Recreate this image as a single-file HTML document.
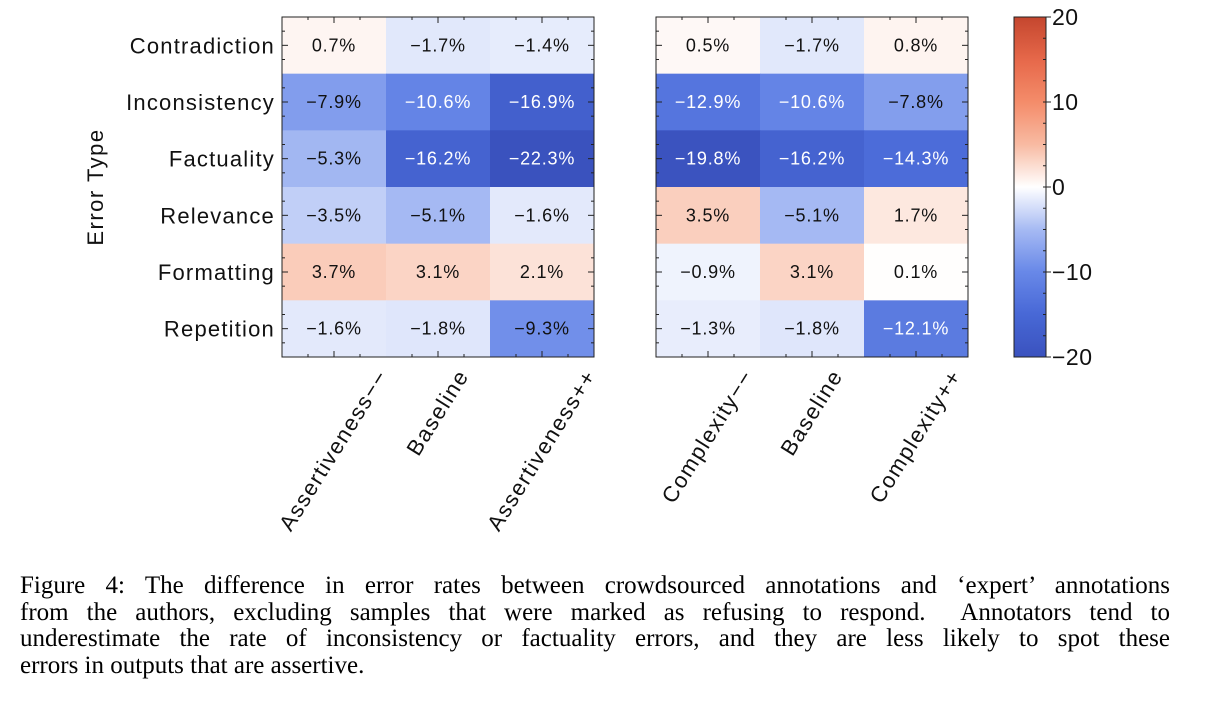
<!DOCTYPE html>
<html><head><meta charset="utf-8"><style>
body{margin:0;background:#fff;width:1226px;height:724px;overflow:hidden}
.cap{position:absolute;left:20px;top:573px;width:1150px;font-family:"Liberation Serif",serif;font-size:25px;line-height:26.7px;color:#000}
.cap div{text-align:justify;text-align-last:justify;white-space:nowrap}
.cap div.last{text-align-last:left}
</style></head><body>
<svg id="chart" width="1226" height="560" style="position:absolute;left:0;top:0" font-family="Liberation Sans, sans-serif"></svg>
<div class="cap">
<div>Figure 4: The difference in error rates between crowdsourced annotations and ‘expert’ annotations</div>
<div>from the authors, excluding samples that were marked as refusing to respond.&nbsp; Annotators tend to</div>
<div>underestimate the rate of inconsistency or factuality errors, and they are less likely to spot these</div>
<div class="last">errors in outputs that are assertive.</div>
</div>
<script>
const rows=["Contradiction","Inconsistency","Factuality","Relevance","Formatting","Repetition"];
const leftCols=["Assertiveness−−","Baseline","Assertiveness++"];
const rightCols=["Complexity−−","Baseline","Complexity++"];
const leftVals=[[0.7,-1.7,-1.4],[-7.9,-10.6,-16.9],[-5.3,-16.2,-22.3],[-3.5,-5.1,-1.6],[3.7,3.1,2.1],[-1.6,-1.8,-9.3]];
const rightVals=[[0.5,-1.7,0.8],[-12.9,-10.6,-7.8],[-19.8,-16.2,-14.3],[3.5,-5.1,1.7],[-0.9,3.1,0.1],[-1.3,-1.8,-12.1]];
const cbTicks=[20,10,0,-10,-20];
const vmin=-20,vmax=20;
const stops=[[-20,[58,82,190]],[-15,[72,104,214]],[-10,[104,136,232]],[-5,[166,186,243]],[0,[255,255,255]],[5,[248,186,162]],[10,[244,140,106]],[15,[230,104,74]],[20,[196,70,46]]];
function color(v){v=Math.max(vmin,Math.min(vmax,v));for(let i=0;i<stops.length-1;i++){const a=stops[i],b=stops[i+1];if(v<=b[0]){const t=(v-a[0])/(b[0]-a[0]);const c=a[1].map((x,k)=>Math.round(x+(b[1][k]-x)*t));return 'rgb('+c.join(',')+')';}}return 'rgb(196,70,46)';}
const svg=document.getElementById('chart');const NS='http://www.w3.org/2000/svg';
function el(t,a,txt){const e=document.createElementNS(NS,t);for(const k in a)e.setAttribute(k,a[k]);if(txt!==undefined)e.textContent=txt;svg.appendChild(e);return e;}
const yTop=17,yBot=357,H=yBot-yTop;
const ang=58*Math.PI/180;
function heat(x0,x1,cols,vals,name,showRows){
 const cw=(x1-x0)/cols.length,rh=H/rows.length;
 const xs=i=>x0+i*cw, ys=j=>yTop+j*rh;
 vals.forEach((r,j)=>r.forEach((v,i)=>{
  const c=el('rect',{x:xs(i),y:ys(j),width:cw+0.5,height:rh+0.5,fill:color(v)});
  
  
  const t=el('text',{x:xs(i)+cw/2,y:ys(j)+rh/2+6,'text-anchor':'middle','font-size':18,'letter-spacing':0.8,fill:Math.abs(v)>=10?'#fff':'#111'},v.toFixed(1).replace('-','−')+'%');
  
  
 }));
 const f=el('rect',{x:x0,y:yTop,width:x1-x0,height:H,fill:'none',stroke:'#222','stroke-width':1});
 
 rows.forEach((r,j)=>{const y=ys(j)+rh/2;
  el('line',{x1:x0,x2:x0+6,y1:y,y2:y,stroke:'#222'});el('line',{x1:x1,x2:x1-6,y1:y,y2:y,stroke:'#222'});
  [-1,1].forEach(s=>{const yy=y+s*rh/4;el('line',{x1:x0,x2:x0+3,y1:yy,y2:yy,stroke:'#222'});el('line',{x1:x1,x2:x1-3,y1:yy,y2:yy,stroke:'#222'});});
  if(showRows){const t=el('text',{x:x0-7,y:y+8,'text-anchor':'end','font-size':22,'letter-spacing':1.2,fill:'#111'},r);}
 });
 cols.forEach((c,i)=>{const x=xs(i)+cw/2;
  el('line',{x1:x,x2:x,y1:yTop,y2:yTop+6,stroke:'#222'});el('line',{x1:x,x2:x,y1:yBot,y2:yBot-6,stroke:'#222'});
  [-1,1].forEach(s=>{const xx=x+s*cw/4;el('line',{x1:xx,x2:xx,y1:yTop,y2:yTop+3,stroke:'#222'});el('line',{x1:xx,x2:xx,y1:yBot,y2:yBot-3,stroke:'#222'});});
  const t=el('text',{x:0,y:7,'text-anchor':'middle','font-size':22,'letter-spacing':1.5,fill:'#111'},c);
  
  const L=t.getComputedTextLength();const fh=22;
  const halfH=(L*Math.sin(ang)+fh*Math.cos(ang))/2;
  t.setAttribute('transform','translate('+x+' '+(366+halfH)+') rotate(-58)');
 });
}
heat(282,594,leftCols,leftVals,'left-heatmap',true);
heat(656,968,rightCols,rightVals,'right-heatmap',false);
const yt=el('text',{x:103,y:187,'text-anchor':'middle','font-size':22,'letter-spacing':1.5,fill:'#111',transform:'rotate(-90 103 187)'},'Error Type');

const cx0=1014,cx1=1046;
const g=el('defs',{});const lg=document.createElementNS(NS,'linearGradient');lg.setAttribute('id','cb');lg.setAttribute('x1','0');lg.setAttribute('x2','0');lg.setAttribute('y1','1');lg.setAttribute('y2','0');g.appendChild(lg);
for(let k=0;k<=40;k++){const v=vmin+k;const s=document.createElementNS(NS,'stop');s.setAttribute('offset',k/40);s.setAttribute('stop-color',color(v));lg.appendChild(s);}
const cb=el('rect',{x:cx0,y:yTop,width:cx1-cx0,height:H,fill:'url(#cb)',stroke:'#222'});

const cy=v=>yBot-(v-vmin)/(vmax-vmin)*H;
for(let v=-20;v<=20;v+=2.5){el('line',{x1:cx1,x2:cx1-3,y1:cy(v),y2:cy(v),stroke:'#222'});}
cbTicks.forEach(v=>{el('line',{x1:cx1,x2:cx1+5,y1:cy(v),y2:cy(v),stroke:'#222'});
 const t=el('text',{x:cx1+6,y:cy(v)+8,'font-size':23,'letter-spacing':0.5,fill:'#111'},String(v).replace('-','−'));
 });
</script>
</body></html>
